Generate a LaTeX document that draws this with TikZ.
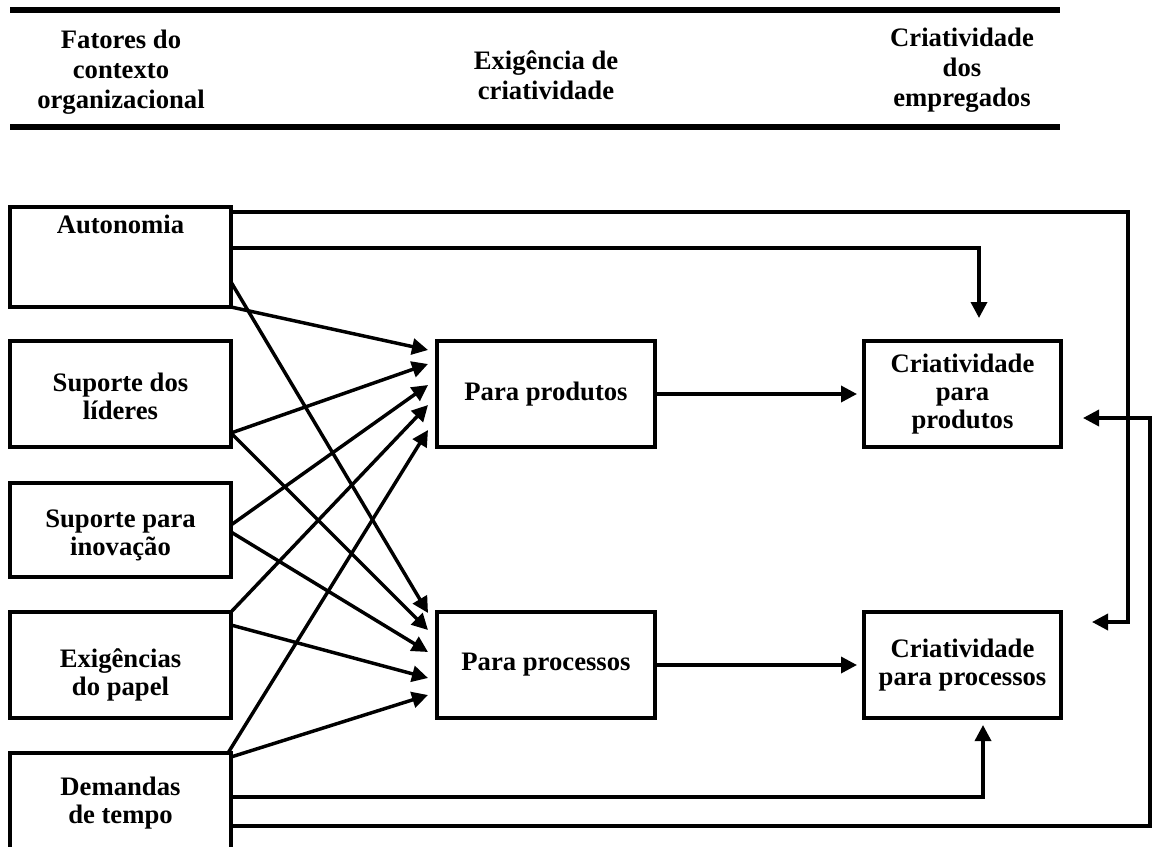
\documentclass[tikz,border=0pt]{standalone}
\usepackage{fontspec}
\setmainfont{Liberation Serif}
\usetikzlibrary{arrows.meta,calc}

\begin{document}
\begin{tikzpicture}[x=0.75pt,y=-0.75pt,
  txt/.style={font=\fontsize{20}{21}\selectfont\bfseries, align=center, inner sep=0pt},
  head/.style={font=\fontsize{20}{22.5}\selectfont\bfseries, align=center, inner sep=0pt},
  box/.style={txt, draw, line width=3.4pt, outer sep=0pt},
  leftbox/.style={box, minimum width=165.75pt},
  midbox/.style={box, minimum width=163.5pt},
  rightbox/.style={box, minimum width=147.75pt},
  rule/.style={line width=3.9pt},
  conn/.style={line width=2.6pt, -{Triangle[length=12pt,width=12pt]}}]

\useasboundingbox (0,0) rectangle (1152,846);

% header rules and column titles
\draw[rule] (10,10) -- (1060,10);
\draw[rule] (10,127) -- (1060,127);
\node[head] (h1) at (121,72) {Fatores do\\contexto\\organizacional};
\node[head] (h2) at (546,75) {Exigência de\\criatividade};
\node[head] (h3) at (962,70) {Criatividade\\dos\\empregados};

% organisational context factors
\node[leftbox, minimum height=75pt,
      label={[txt, anchor=north, yshift=-6pt]north:Autonomia}] (aut) at (120.5,257) {};
\node[leftbox, minimum height=79.5pt,
      label={[txt, yshift=-2pt]center:Suporte dos\\líderes}] (sdl) at (120.5,394) {};
\node[leftbox, minimum height=70.5pt,
      label={[txt, yshift=-4pt]center:Suporte para\\inovação}] (spi) at (120.5,530) {};
\node[leftbox, minimum height=79.5pt,
      label={[txt, yshift=-7.5pt]center:Exigências\\do papel}] (exi) at (120.5,665) {};
\node[leftbox, minimum height=75pt] (dem) at (120.5,803) {Demandas\\de tempo};

% creativity requirement
\node[midbox, minimum height=79.5pt] (pp) at (546,394) {Para produtos};
\node[midbox, minimum height=79.5pt] (pc) at (546,665) {Para processos};

% employee creativity
\node[rightbox, minimum height=79.5pt] (cp) at (962.5,394) {Criatividade\\para\\produtos};
\node[rightbox, minimum height=79.5pt] (cpc) at (962.5,665) {Criatividade\\para processos};

% factors -> para produtos
\draw[conn] (aut.south east) -- ($(pp.west)+(-9,-44)$);
\draw[conn] ($(sdl.east)+(0,39)$) -- ($(pp.west)+(-9,-30)$);
\draw[conn] ($(spi.east)+(0,-5)$) -- ($(pp.west)+(-9,-9)$);
\draw[conn] (exi.north east) -- ($(pp.west)+(-9,11)$);
\draw[conn] ($(dem.north east)+(-3,0)$) -- ($(pp.west)+(-9,36)$);

% factors -> para processos
\draw[conn] ($(aut.east)+(0,25)$) -- ($(pc.west)+(-9,-52)$);
\draw[conn] ($(sdl.east)+(0,39)$) -- ($(pc.west)+(-9,-35)$);
\draw[conn] ($(spi.east)+(0,2)$) -- ($(pc.west)+(-9,-13)$);
\draw[conn] ($(exi.east)+(0,-40)$) -- ($(pc.west)+(-9,13)$);
\draw[conn] ($(dem.east)+(0,-46)$) -- ($(pc.west)+(-9,30)$);

% requirement -> creativity
\draw[conn] (pp.east) -- ($(cp.west)+(-7,0)$);
\draw[conn] (pc.east) -- ($(cpc.west)+(-7,0)$);

% direct paths from autonomy and time demands
\coordinate (rA) at (1128,400);
\coordinate (rB) at (1150,600);
\draw[conn] ($(aut.north east)+(0,5)$) -| (rA) |- ($(cpc.east)+(31,-43)$);
\draw[conn] ($(aut.east)+(0,-9)$) -| ($(cp.north)+(16.5,-23)$);
\draw[conn] ($(dem.east)+(0,-6)$) -| ($(cpc.south)+(20.5,7)$);
\draw[conn] ($(dem.east)+(0,23)$) -| (rB) |- ($(cp.east)+(22,24)$);

\end{tikzpicture}
\end{document}
